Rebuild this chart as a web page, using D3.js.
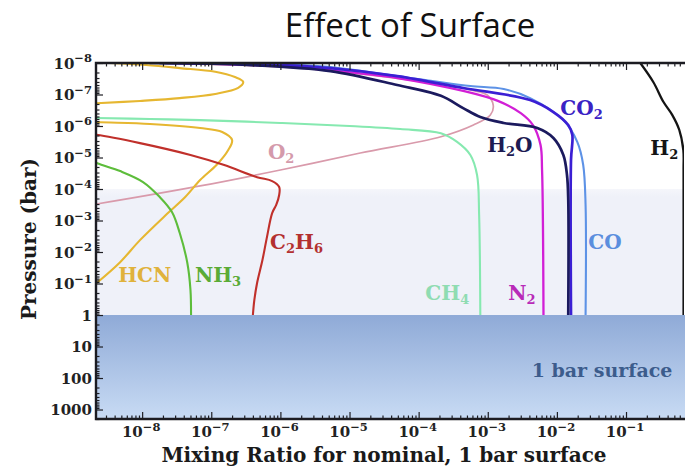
<!DOCTYPE html>
<html>
<head>
<meta charset="utf-8">
<script src="https://cdn.jsdelivr.net/npm/d3@7/dist/d3.min.js"></script>
<style>
  html, body { margin: 0; padding: 0; background: #ffffff; }
  svg { display: block; }
</style>
</head>
<body>
<svg id="chart" width="685" height="469"></svg>
<script>
// Vertical profiles for the 1 bar surface case: [mixing ratio, pressure (bar)]
const h2Profile = [[0.161,1e-8],[0.248,4.0e-8],[0.347,1.7e-7],[0.468,4.5e-7],[0.59,1.34e-6],[0.675,5.8e-6],[0.68,2.5e-5],[0.68,1]];
const co2Profile = [[1.8e-8,1e-8],[1.0e-6,1.16e-8],[5.3e-6,1.45e-8],[4.9e-5,2.6e-8],[4.4e-4,6.2e-8],[4.1e-3,1.5e-7],[8.9e-3,3.6e-7],[1.46e-2,9.3e-7],[1.67e-2,1.9e-6],[1.6e-2,1.2e-5],[1.6e-2,1]];
const h2oProfile = [[1.3e-8,1e-8],[3.7e-7,1.16e-8],[5.3e-6,1.8e-8],[4.9e-5,5.0e-8],[2.1e-4,1.1e-7],[4.4e-4,2.7e-7],[7.8e-4,5.2e-7],[1.7e-3,8.0e-7],[5.2e-3,1.16e-6],[8.9e-3,2.4e-6],[1.24e-2,8.3e-6],[1.4e-2,3.6e-5],[1.46e-2,2.2e-4],[1.46e-2,1]];
const coProfile = [[6.9e-8,1e-8],[1.9e-6,1.16e-8],[5.3e-6,1.34e-8],[1.5e-4,3.7e-8],[5.6e-4,5.4e-8],[1.7e-3,6.7e-8],[4.1e-3,1.3e-7],[1.24e-2,6.5e-7],[1.97e-2,3.2e-6],[2.4e-2,1.7e-5],[2.6e-2,3.2e-4],[2.6e-2,1]];
const n2Profile = [[3.5e-8,1e-8],[1.0e-6,1.25e-8],[5.3e-6,1.7e-8],[4.9e-5,3.0e-8],[4.4e-4,7.7e-8],[1.4e-3,1.6e-7],[3.0e-3,3.9e-7],[4.5e-3,9.3e-7],[5.8e-3,4.0e-6],[6.1e-3,2.5e-5],[6.4e-3,1]];
const ch4Profile = [[1.3e-9,5.6e-7],[2.2e-9,5.6e-7],[1.3e-8,6.0e-7],[6.9e-8,6.5e-7],[1.0e-6,8.0e-7],[1.0e-5,1.0e-6],[5.4e-5,1.25e-6],[2.1e-4,1.7e-6],[3.6e-4,3.2e-6],[5.6e-4,8.3e-6],[7.0e-4,3.6e-5],[7.5e-4,6.7e-4],[7.8e-4,1]];
const o2Profile = [[1.3e-9,3.6e-4],[2.2e-9,3.0e-4],[6.9e-8,8.0e-5],[1.0e-6,2.5e-5],[1.43e-5,7.2e-6],[2.1e-4,2.2e-6],[6.2e-4,9.3e-7],[1.09e-3,4.5e-7],[1.2e-3,2.2e-7],[9.8e-4,1.04e-7],[5.6e-4,7.2e-8],[1.5e-4,4.3e-8],[1.43e-5,2.2e-8],[1.0e-6,1.34e-8],[6.9e-8,1.08e-8],[1.3e-8,1e-8]];
const hcnProfile = [[3.4e-9,1e-8],[1.14e-8,1.16e-8],[3.5e-8,1.45e-8],[1.14e-7,1.9e-8],[2.2e-7,2.8e-8],[2.9e-7,4.0e-8],[2.45e-7,6.2e-8],[1.14e-7,9.6e-8],[3.5e-8,1.3e-7],[9.3e-9,1.6e-7],[2.2e-9,1.9e-7],[1.0e-9,2.1e-7],[1.0e-9,6.8e-7],[2.2e-9,7.5e-7],[1.3e-8,8.6e-7],[6.9e-8,1.16e-6],[1.44e-7,1.55e-6],[2.0e-7,2.8e-6],[1.76e-7,5.8e-6],[1.2e-7,1.7e-5],[6.9e-8,5.2e-5],[4.2e-8,1.8e-4],[2.2e-8,6.7e-4],[9.3e-9,4.2e-3],[4.8e-9,2.1e-2],[2.2e-9,9.6e-2],[1.27e-9,0.25]];
const nh3Profile = [[1.27e-9,8.3e-6],[2.2e-9,1.5e-5],[4.8e-9,2.7e-5],[1.03e-8,6.0e-5],[1.8e-8,1.8e-4],[2.7e-8,5.4e-4],[3.5e-8,2.5e-3],[4.5e-8,2.2e-2],[5.0e-8,0.16],[5.1e-8,1]];
const c2h6Profile = [[1.27e-9,1.7e-6],[2.2e-9,1.9e-6],[9.3e-9,3.5e-6],[5.0e-8,8.3e-6],[1.5e-7,1.7e-5],[4.6e-7,4.2e-5],[7.6e-7,5.6e-5],[9.6e-7,8.6e-5],[9.6e-7,1.55e-4],[8.7e-7,3.2e-4],[7.6e-7,5.8e-4],[6.4e-7,3.3e-3],[5.5e-7,1.8e-2],[4.6e-7,9.6e-2],[4.2e-7,0.33],[4.0e-7,1]];

// Tick values and their labels: [base, exponent]
const xTickValues = [1e-8, 1e-7, 1e-6, 1e-5, 1e-4, 1e-3, 1e-2, 1e-1];
const xTickLabels = [["10","−8"],["10","−7"],["10","−6"],["10","−5"],["10","−4"],["10","−3"],["10","−2"],["10","−1"]];
const yTickValues = [1e-8, 1e-7, 1e-6, 1e-5, 1e-4, 1e-3, 1e-2, 1e-1, 1, 10, 100, 1000];
const yTickLabels = [["10","−8"],["10","−7"],["10","−6"],["10","−5"],["10","−4"],["10","−3"],["10","−2"],["10","−1"],["1",""],["10",""],["100",""],["1000",""]];

// Species names as [text, subscript] pieces, with where each name sits: [mixing ratio, pressure]
const speciesNames = [
  { id: "H2",   parts: [["H",""],["","2"]],            at: [0.225, 8.3e-6] },
  { id: "CO2",  parts: [["CO",""],["","2"]],           at: [1.12e-2, 4.5e-7] },
  { id: "H2O",  parts: [["H",""],["","2"],["O",""]],   at: [9.8e-4, 6.7e-6] },
  { id: "CO",   parts: [["CO",""]],                    at: [2.85e-2, 8.0e-3] },
  { id: "N2",   parts: [["N",""],["","2"]],            at: [1.98e-3, 0.33] },
  { id: "CH4",  parts: [["CH",""],["","4"]],           at: [1.25e-4, 0.33] },
  { id: "O2",   parts: [["O",""],["","2"]],            at: [6.6e-7, 1.1e-5] },
  { id: "C2H6", parts: [["C",""],["","2"],["H",""],["","6"]], at: [7.1e-7, 8.0e-3] },
  { id: "NH3",  parts: [["NH",""],["","3"]],           at: [5.8e-8, 8.9e-2] },
  { id: "HCN",  parts: [["HCN",""]],                   at: [4.5e-9, 8.9e-2] }
];

const styles = {
  H2:   { line: "#141414", text: "#141414", width: 2.3 },
  CO2:  { line: "#3b1fd4", text: "#3a22c4", width: 2.7 },
  H2O:  { line: "#1b1a5e", text: "#1d1b52", width: 2.7 },
  CO:   { line: "#5d92e6", text: "#5b8ede", width: 2.1 },
  N2:   { line: "#d21fd6", text: "#b82ab8", width: 2.3 },
  CH4:  { line: "#86e9b0", text: "#8fdcb2", width: 2.1 },
  O2:   { line: "#d99aab", text: "#d49aab", width: 1.7 },
  C2H6: { line: "#c0302b", text: "#b33030", width: 2.1 },
  NH3:  { line: "#5dbd3b", text: "#5aab36", width: 2.1 },
  HCN:  { line: "#e6b731", text: "#e0b23c", width: 2.1 }
};

const profiles = [
  ["O2", o2Profile], ["CH4", ch4Profile], ["HCN", hcnProfile], ["NH3", nh3Profile],
  ["C2H6", c2h6Profile], ["CO", coProfile], ["N2", n2Profile], ["CO2", co2Profile],
  ["H2O", h2oProfile], ["H2", h2Profile]
];

const svg = d3.select("#chart");
const plotL = 96, plotT = 63, plotR = 684, plotB = 419;
const serif = "'DejaVu Serif', 'Liberation Serif', serif";

const x = d3.scaleLog().domain([2.15e-9, 0.69]).range([plotL, plotR]);
const y = d3.scaleLog().domain([1e-8, 2e3]).range([plotT, plotB]);

const defs = svg.append("defs");
defs.append("clipPath").attr("id", "plotClip")
  .append("rect").attr("x", plotL).attr("y", plotT).attr("width", plotR - plotL).attr("height", plotB - plotT);
const surfGrad = defs.append("linearGradient").attr("id", "surfGrad")
  .attr("x1", 0).attr("y1", 0).attr("x2", 0).attr("y2", 1);
surfGrad.append("stop").attr("offset", "0%").attr("stop-color", "#8faad7");
surfGrad.append("stop").attr("offset", "100%").attr("stop-color", "#c8dbf4");
const bandGrad = defs.append("linearGradient").attr("id", "bandGrad")
  .attr("x1", 0).attr("y1", 0).attr("x2", 0).attr("y2", 1);
bandGrad.append("stop").attr("offset", "0%").attr("stop-color", "#f5f6fb");
bandGrad.append("stop").attr("offset", "6%").attr("stop-color", "#eff1f9");
bandGrad.append("stop").attr("offset", "100%").attr("stop-color", "#eff1f9");

// Title
svg.append("text")
  .attr("x", 410).attr("y", 37)
  .attr("text-anchor", "middle")
  .style("font-family", "'Open Sans', sans-serif")
  .style("font-size", "33px")
  .style("fill", "#111")
  .text("Effect of Surface");

// Lower atmosphere band
svg.append("rect")
  .attr("x", plotL).attr("y", y(1e-4))
  .attr("width", plotR - plotL).attr("height", y(1) - y(1e-4))
  .attr("fill", "url(#bandGrad)");

// Profiles
const line = d3.line()
  .x(d => x(d[0])).y(d => y(d[1]))
  .curve(d3.curveCatmullRom.alpha(0.5));

const curves = svg.append("g").attr("clip-path", "url(#plotClip)");
profiles.forEach(([id, data]) => {
  curves.append("path")
    .attr("d", line(data))
    .attr("fill", "none")
    .attr("stroke", styles[id].line)
    .attr("stroke-width", styles[id].width)
    .attr("stroke-linejoin", "round")
    .attr("stroke-linecap", "round");
});

// Surface below 1 bar
svg.append("rect")
  .attr("x", plotL).attr("y", y(1))
  .attr("width", plotR - plotL + 1).attr("height", plotB - y(1))
  .attr("fill", "url(#surfGrad)");

svg.append("text")
  .attr("x", x(4.5e-2)).attr("y", y(93))
  .attr("text-anchor", "middle")
  .style("font-family", serif).style("font-weight", "bold")
  .style("font-size", "19px").style("fill", "#3c5c8c")
  .text("1 bar surface");

// Axes: major and minor ticks pointing into the plot
const minor = (lo, hi) => {
  const v = [];
  for (let e = lo; e < hi; e++) for (let m = 2; m <= 9; m++) v.push(m * Math.pow(10, e));
  return v;
};
const xMinor = minor(-9, 0).filter(v => v >= x.domain()[0] && v <= x.domain()[1]);
const yMinor = minor(-8, 4).filter(v => v <= y.domain()[1]);

function tickGroup(axis, transform) {
  const g = svg.append("g").attr("transform", transform).call(axis);
  g.select(".domain").remove();
  g.selectAll(".tick line").attr("stroke", "#1e1e24").attr("stroke-width", 1.2);
  return g;
}
tickGroup(d3.axisBottom(x).tickValues(xTickValues).tickSize(-7).tickFormat(""), `translate(0,${plotB})`);
tickGroup(d3.axisBottom(x).tickValues(xMinor).tickSize(-3.5).tickFormat(""), `translate(0,${plotB})`);
tickGroup(d3.axisTop(x).tickValues(xTickValues).tickSize(-7).tickFormat(""), `translate(0,${plotT})`);
tickGroup(d3.axisTop(x).tickValues(xMinor).tickSize(-3.5).tickFormat(""), `translate(0,${plotT})`);
tickGroup(d3.axisLeft(y).tickValues(yTickValues).tickSize(-7).tickFormat(""), `translate(${plotL},0)`);
tickGroup(d3.axisLeft(y).tickValues(yMinor).tickSize(-3.5).tickFormat(""), `translate(${plotL},0)`);

// Frame
svg.append("path")
  .attr("d", `M${plotR + 2},${plotT}H${plotL}V${plotB}H${plotR + 2}`)
  .attr("fill", "none").attr("stroke", "#1c1c22").attr("stroke-width", 2.4);

// Tick labels
function powerLabel(sel, base, exp) {
  sel.append("tspan").text(base);
  if (exp) sel.append("tspan").attr("dy", -6.5).style("font-size", "11.5px").text(exp);
}
xTickValues.forEach((v, i) => {
  const t = svg.append("text")
    .attr("x", x(v) - 1).attr("y", 437)
    .attr("text-anchor", "middle")
    .style("font-family", serif).style("font-weight", "bold")
    .style("font-size", "15px").style("fill", "#222");
  powerLabel(t, xTickLabels[i][0], xTickLabels[i][1]);
});
yTickValues.forEach((v, i) => {
  const t = svg.append("text")
    .attr("x", 92).attr("y", y(v) + 5.5)
    .attr("text-anchor", "end")
    .style("font-family", serif).style("font-weight", "bold")
    .style("font-size", "15px").style("fill", "#222");
  powerLabel(t, yTickLabels[i][0], yTickLabels[i][1]);
});

// Axis titles
svg.append("text")
  .attr("transform", "translate(36,239) rotate(-90)")
  .attr("text-anchor", "middle")
  .style("font-family", serif).style("font-weight", "bold")
  .style("font-size", "20px").style("fill", "#1a1a1a")
  .text("Pressure (bar)");
svg.append("text")
  .attr("x", 384).attr("y", 462)
  .attr("text-anchor", "middle")
  .style("font-family", serif).style("font-weight", "bold")
  .style("font-size", "20px").style("fill", "#1a1a1a")
  .text("Mixing Ratio for nominal, 1 bar surface");

// Species names
speciesNames.forEach(s => {
  const t = svg.append("text")
    .attr("x", x(s.at[0])).attr("y", y(s.at[1]))
    .style("font-family", serif).style("font-weight", "bold")
    .style("font-size", "20px").style("fill", styles[s.id].text);
  let lowered = false;
  s.parts.forEach(([main, sub]) => {
    if (sub) {
      t.append("tspan").attr("dy", lowered ? 0 : 4).style("font-size", "13px").text(sub);
      lowered = true;
    } else {
      t.append("tspan").attr("dy", lowered ? -4 : 0).text(main);
      lowered = false;
    }
  });
});
</script>
</body>
</html>
